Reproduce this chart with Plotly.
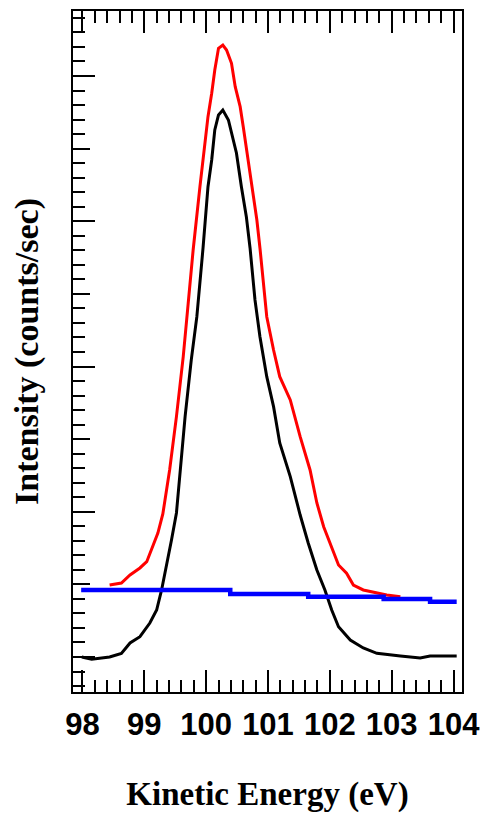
import plotly.graph_objects as go

# Black curve (measured spectrum)
black_x = [97.99, 98.15, 98.44, 98.63, 98.77, 98.93, 99.09, 99.20, 99.28, 99.36,
           99.44, 99.52, 99.66, 99.76, 99.85, 99.95, 100.03, 100.09, 100.14, 100.20,
           100.27, 100.36, 100.44, 100.49, 100.57, 100.65, 100.71, 100.79, 100.87, 100.98,
           101.09, 101.19, 101.36, 101.52, 101.65, 101.79, 101.92, 102.03, 102.14, 102.33,
           102.54, 102.76, 103.14, 103.46, 103.62, 104.05]
black_y = [0, -30, 0, 50, 193, 280, 468, 647, 923, 1243,
           1611, 1983, 3309, 4090, 4686, 5632, 6476, 6844, 7257, 7463,
           7532, 7394, 7119, 6940, 6476, 6063, 5632, 4916, 4411, 3860,
           3447, 2947, 2483, 1955, 1570, 1198, 923, 647, 417, 234,
           124, 51, 14, -14, 14, 14]

# Red curve
red_x = [98.44, 98.63, 98.77, 98.93, 99.04, 99.14, 99.22, 99.30, 99.41, 99.52,
         99.63, 99.71, 99.79, 99.90, 99.98, 100.03, 100.09, 100.14, 100.20, 100.27,
         100.33, 100.41, 100.47, 100.55, 100.60, 100.66, 100.74, 100.82, 100.87, 100.98,
         101.09, 101.19, 101.36, 101.52, 101.68, 101.79, 101.90, 102.03, 102.14, 102.27,
         102.38, 102.54, 102.76, 102.92, 103.14]
red_y = [991, 1019, 1129, 1226, 1312, 1519, 1707, 1969, 2575, 3309,
         4135, 4870, 5604, 6476, 7027, 7440, 7762, 8083, 8382, 8427,
         8358, 8175, 7853, 7578, 7302, 6936, 6476, 6017, 5632, 4686,
         4227, 3860, 3539, 3034, 2575, 2121, 1794, 1519, 1267, 1153,
         991, 923, 877, 854, 830]

# Blue background (stepped)
blue_x = [97.98, 100.39, 101.65, 102.87, 103.62, 104.05]
blue_y = [923, 868, 831, 799, 762, 762]

x_ticks = [98, 99, 100, 101, 102, 103, 104]

fig = go.Figure()
fig.add_trace(go.Scatter(x=blue_x, y=blue_y, mode="lines", line=dict(color="#0000ff", width=4.5, shape="hv"),
                         yaxis="y2", showlegend=False, hoverinfo="skip"))
fig.add_trace(go.Scatter(x=red_x, y=red_y, mode="lines", line=dict(color="#ff0000", width=3),
                         showlegend=False))
fig.add_trace(go.Scatter(x=black_x, y=black_y, mode="lines", line=dict(color="#000000", width=3),
                         showlegend=False))

yr = [-482, 8895]
fig.update_layout(
    width=483, height=813,
    margin=dict(l=73, r=21, t=11, b=121),
    paper_bgcolor="white", plot_bgcolor="white",
    xaxis=dict(
        range=[97.848, 104.136], tickmode="array", tickvals=x_ticks,
        ticktext=[str(v) for v in x_ticks], automargin=False,
        ticks="inside", ticklen=22, tickwidth=2, tickcolor="black",
        minor=dict(dtick=0.2, tick0=98, ticks="inside", ticklen=12, tickwidth=2, tickcolor="black", showgrid=False),
        showline=True, linecolor="black", linewidth=2, mirror="ticks",
        showgrid=False, zeroline=False, ticklabelstandoff=4,
        tickfont=dict(family="Liberation Sans", size=31, color="black", weight="bold"),
        title=dict(text="Kinetic Energy (eV)", standoff=41,
                   font=dict(family="Liberation Serif", size=33, color="black", weight="bold")),
    ),
    yaxis=dict(
        range=yr, tick0=0, dtick=2000, ticks="inside", ticklen=22, tickwidth=2, tickcolor="black",
        minor=dict(dtick=200, ticks="inside", ticklen=12, tickwidth=2, tickcolor="black", showgrid=False),
        showticklabels=False, showline=True, linecolor="black", linewidth=2, mirror=True,
        showgrid=False, zeroline=False, automargin=False,
        title=dict(text="Intensity (counts/sec)", standoff=22,
                   font=dict(family="Liberation Serif", size=34, color="black", weight="bold")),
    ),
    yaxis2=dict(
        range=yr, overlaying="y", side="left", anchor="x", tick0=0, dtick=1000,
        ticks="inside", ticklen=17, tickwidth=2, tickcolor="black", automargin=False,
        showticklabels=False, showline=False, showgrid=False, zeroline=False,
    ),
)

fig.write_html("out.html", config={"displayModeBar": False},
               post_script="document.body.style.margin='0';")
